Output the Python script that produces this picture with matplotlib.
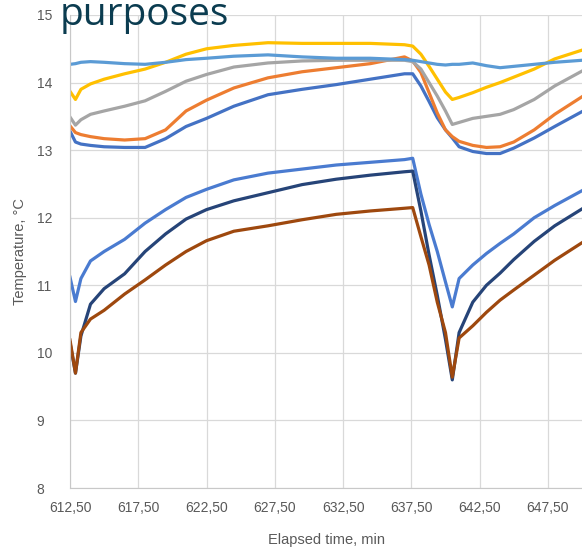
import matplotlib
matplotlib.use("Agg")
import matplotlib.pyplot as plt

# elapsed time, min (shared sample points)
t = [612.5, 612.9, 613.3, 614.0, 615.0, 616.5, 618.0, 619.5, 621.0, 622.5,
     624.5, 627.0, 629.5, 632.0, 634.5, 637.0, 637.6, 638.2, 638.8, 639.4,
     640.0, 640.5, 641.0, 642.0, 643.0, 644.0, 645.0, 646.5, 648.0, 650.0]

# upper group of sensors
yellow = [13.87, 13.75, 13.90, 13.98, 14.05, 14.13, 14.20, 14.30, 14.42, 14.50,
          14.55, 14.59, 14.58, 14.58, 14.58, 14.56, 14.54, 14.42, 14.24, 14.05,
          13.86, 13.75, 13.78, 13.85, 13.93, 14.00, 14.08, 14.20, 14.35, 14.48]
light_blue = [14.27, 14.28, 14.30, 14.31, 14.30, 14.28, 14.27, 14.30, 14.34, 14.36,
              14.39, 14.41, 14.38, 14.36, 14.36, 14.34, 14.33, 14.31, 14.29, 14.27,
              14.26, 14.27, 14.27, 14.29, 14.25, 14.22, 14.24, 14.27, 14.30, 14.33]
gray = [13.49, 13.37, 13.45, 13.53, 13.58, 13.65, 13.73, 13.87, 14.02, 14.12,
        14.23, 14.29, 14.32, 14.33, 14.33, 14.33, 14.31, 14.20, 14.00, 13.80,
        13.58, 13.38, 13.41, 13.47, 13.50, 13.53, 13.60, 13.75, 13.95, 14.17]
orange = [13.36, 13.26, 13.23, 13.20, 13.17, 13.15, 13.17, 13.30, 13.58, 13.74,
          13.92, 14.07, 14.16, 14.22, 14.28, 14.38, 14.32, 14.15, 13.85, 13.55,
          13.30, 13.20, 13.13, 13.07, 13.04, 13.05, 13.12, 13.30, 13.53, 13.79]
blue = [13.28, 13.12, 13.09, 13.07, 13.05, 13.04, 13.04, 13.17, 13.35, 13.47,
        13.65, 13.82, 13.90, 13.97, 14.05, 14.13, 14.13, 13.95, 13.72, 13.48,
        13.30, 13.18, 13.05, 12.98, 12.95, 12.95, 13.03, 13.18, 13.35, 13.57]

# lower group of sensors
mid_blue = [11.12, 10.76, 11.10, 11.36, 11.50, 11.68, 11.92, 12.12, 12.30, 12.42,
            12.56, 12.66, 12.72, 12.78, 12.82, 12.86, 12.88, 12.35, 11.90, 11.50,
            11.05, 10.68, 11.10, 11.30, 11.47, 11.62, 11.76, 12.00, 12.18, 12.40]
navy = [10.15, 9.70, 10.25, 10.72, 10.95, 11.17, 11.50, 11.76, 11.98, 12.12,
        12.25, 12.37, 12.49, 12.57, 12.63, 12.68, 12.69, 12.10, 11.45, 10.85,
        10.20, 9.60, 10.30, 10.75, 11.00, 11.18, 11.38, 11.65, 11.88, 12.13]
brown = [10.19, 9.70, 10.30, 10.50, 10.63, 10.87, 11.08, 11.30, 11.50, 11.66,
         11.80, 11.88, 11.97, 12.05, 12.10, 12.14, 12.15, 11.72, 11.30, 10.75,
         10.30, 9.64, 10.22, 10.40, 10.60, 10.78, 10.93, 11.15, 11.37, 11.63]

xticks = [612.5, 617.5, 622.5, 627.5, 632.5, 637.5, 642.5, 647.5]
xtick_labels = ["612,50", "617,50", "622,50", "627,50", "632,50", "637,50", "642,50", "647,50"]
yticks = [8, 9, 10, 11, 12, 13, 14, 15]

plt.rcParams['font.family'] = ['Liberation Sans', 'DejaVu Sans']

fig = plt.figure(figsize=(5.82, 5.49), dpi=100)
ax = fig.add_axes([70 / 582, 61 / 549, 1 - 70 / 582, 473 / 549])

series = [
    (blue, '#4472c4'),
    (orange, '#ed7d31'),
    (gray, '#a5a5a5'),
    (yellow, '#ffc000'),
    (light_blue, '#5b9bd5'),
    (mid_blue, '#4a7bd0'),
    (navy, '#264478'),
    (brown, '#9e480e'),
]
for vals, col in series:
    ax.plot(t, vals, color=col, lw=2.3, solid_joinstyle='round')

ax.set_xlim(612.5, 650.0)
ax.set_ylim(8, 15)
ax.set_xticks(xticks)
ax.set_xticklabels(xtick_labels)
ax.set_yticks(yticks)
ax.grid(True, color='#d9d9d9', lw=0.9)
ax.set_axisbelow(True)
for s in ['top', 'right']:
    ax.spines[s].set_visible(False)
for s in ['left', 'bottom']:
    ax.spines[s].set_color('#c8c8c8')
ax.tick_params(length=0, labelsize=10, labelcolor='#595959')
ax.tick_params(axis='x', pad=9)
ax.tick_params(axis='y', pad=24)
for lab in ax.get_yticklabels():
    lab.set_horizontalalignment('left')

ax.set_xlabel("Elapsed time, min", fontsize=10.5, color='#595959', labelpad=13)
ax.set_ylabel("Temperature, °C", fontsize=10.5, color='#595959', labelpad=7)

fig.text(60 / 582, 1 - 25 / 549, "purposes", fontsize=28, color='#0b3c50',
         family=['Open Sans', 'DejaVu Sans'], ha='left', va='baseline')

fig.savefig("out.png", dpi=100)
